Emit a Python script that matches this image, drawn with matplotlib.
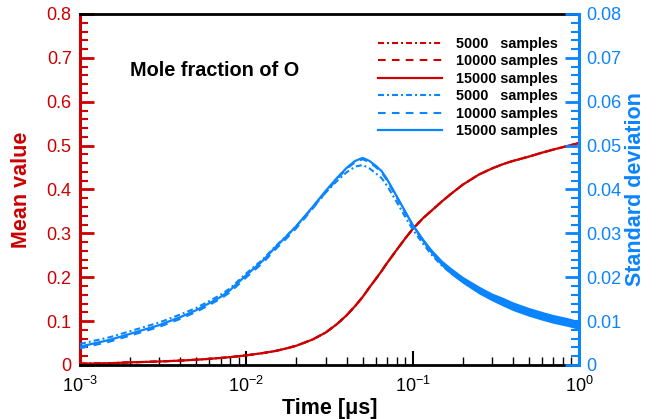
import matplotlib
matplotlib.use('Agg')
import matplotlib.pyplot as plt
import matplotlib.ticker as ticker
import numpy as np

plt.rcParams['font.family'] = ['Liberation Sans', 'DejaVu Sans']
plt.rcParams['mathtext.default'] = 'regular'
plt.rcParams['lines.scale_dashes'] = False

red = '#cc0000'
blue = '#0a84ff'

# time axis [us]
time_us = [0.001, 0.0015, 0.002, 0.003, 0.004, 0.005, 0.006, 0.007, 0.008, 0.01,
           0.0125, 0.015, 0.0175, 0.02, 0.025, 0.03, 0.035, 0.04, 0.045, 0.05,
           0.055, 0.06, 0.065, 0.07, 0.08, 0.09, 0.1, 0.115, 0.13, 0.15,
           0.17, 0.2, 0.25, 0.3, 0.35, 0.4, 0.5, 0.6, 0.7, 0.85, 1.0]

# mean mole fraction of O (left axis); the three sample sizes lie on top of each other
mean_15000 = [0.003, 0.004, 0.006, 0.008, 0.010, 0.012, 0.014, 0.016, 0.018, 0.022,
              0.027, 0.032, 0.038, 0.044, 0.058, 0.074, 0.093, 0.113, 0.134, 0.155,
              0.177, 0.196, 0.214, 0.232, 0.262, 0.288, 0.310, 0.334, 0.352, 0.373,
              0.390, 0.411, 0.434, 0.448, 0.458, 0.465, 0.475, 0.484, 0.491, 0.499, 0.506]
mean_10000 = list(mean_15000)
mean_5000 = list(mean_15000)

# standard deviation (right axis)
std_5000 = [0.0048, 0.0063, 0.0077, 0.0097, 0.0115, 0.0130, 0.0146, 0.0160, 0.0175, 0.0209,
            0.0240, 0.0271, 0.0295, 0.0317, 0.0358, 0.0393, 0.0419, 0.0439, 0.0452, 0.0456,
            0.0448, 0.0437, 0.0426, 0.0409, 0.0372, 0.0338, 0.0309, 0.0277, 0.0251, 0.0226,
            0.0209, 0.0190, 0.0168, 0.0152, 0.0142, 0.0132, 0.0119, 0.0110, 0.0104, 0.0097, 0.0090]
std_10000 = [0.0038, 0.0053, 0.0067, 0.0087, 0.0105, 0.0121, 0.0137, 0.0151, 0.0166, 0.0200,
             0.0232, 0.0264, 0.0289, 0.0312, 0.0356, 0.0394, 0.0423, 0.0447, 0.0462, 0.0469,
             0.0462, 0.0451, 0.0439, 0.0421, 0.0382, 0.0347, 0.0316, 0.0283, 0.0256, 0.0230,
             0.0212, 0.0192, 0.0170, 0.0154, 0.0143, 0.0133, 0.0120, 0.0111, 0.0104, 0.0097, 0.0091]
std_15000 = [0.0042, 0.0057, 0.0071, 0.0091, 0.0109, 0.0125, 0.0141, 0.0155, 0.0171, 0.0205,
             0.0237, 0.0269, 0.0294, 0.0317, 0.0360, 0.0397, 0.0426, 0.0449, 0.0465, 0.0472,
             0.0465, 0.0454, 0.0442, 0.0424, 0.0385, 0.0350, 0.0319, 0.0285, 0.0258, 0.0232,
             0.0214, 0.0194, 0.0171, 0.0155, 0.0144, 0.0134, 0.0121, 0.0112, 0.0105, 0.0098, 0.0091]
# half width of the statistical scatter seen on the 15000-sample curve
std_15000_scatter = [0, 0, 0, 0, 0, 0, 0, 0, 0, 0,
                     0, 0, 0, 0, 0, 0, 0, 0, 0, 0,
                     0, 0.0001, 0.0001, 0.0002, 0.0003, 0.0003, 0.0004, 0.0005, 0.0006, 0.0007,
                     0.0008, 0.0008, 0.0009, 0.0009, 0.0010, 0.0010, 0.0010, 0.0010, 0.0010, 0.0010, 0.0010]

sample_labels = ['5000   samples', '10000 samples', '15000 samples']

dashdot = (0, (4.3, 2.2, 1.4, 2.2))
dashed = (0, (5.5, 4.5))

fig = plt.figure(figsize=(6.58, 4.19), dpi=100)
ax = fig.add_axes([0.1216, 0.1289, 0.7584, 0.8377])
ax2 = ax.twinx()

l1, = ax.plot(time_us, mean_5000, color=red, linestyle=dashdot, linewidth=1.5)
l2, = ax.plot(time_us, mean_10000, color=red, linestyle=dashed, linewidth=1.5)
l3, = ax.plot(time_us, mean_15000, color=red, linestyle='-', linewidth=1.6)

lo = np.array(std_15000) - np.array(std_15000_scatter)
hi = np.array(std_15000) + np.array(std_15000_scatter)
ax2.fill_between(time_us, lo, hi, color=blue, linewidth=0)
l4, = ax2.plot(time_us, std_5000, color=blue, linestyle=dashdot, linewidth=1.5)
l5, = ax2.plot(time_us, std_10000, color=blue, linestyle=dashed, linewidth=1.5)
l6, = ax2.plot(time_us, std_15000, color=blue, linestyle='-', linewidth=1.6)

ax.set_xscale('log')
ax.set_xlim(1e-3, 1)
ax.set_ylim(0, 0.8)
ax2.set_ylim(0, 0.08)

ax.set_yticks(np.arange(0, 0.81, 0.1))
ax.yaxis.set_minor_locator(ticker.MultipleLocator(0.02))
ax.yaxis.set_major_formatter(ticker.FormatStrFormatter('%g'))
ax2.set_yticks(np.arange(0, 0.081, 0.01))
ax2.yaxis.set_minor_locator(ticker.MultipleLocator(0.002))
ax2.yaxis.set_major_formatter(ticker.FuncFormatter(lambda v, p: '0' if abs(v) < 1e-9 else '%.2f' % v))

# spines
for s in ['top', 'bottom']:
    ax.spines[s].set_linewidth(2)
    ax.spines[s].set_color('black')
    ax2.spines[s].set_visible(False)
ax.spines['left'].set_color(red)
ax.spines['left'].set_linewidth(2.2)
ax.spines['right'].set_visible(False)
ax2.spines['left'].set_visible(False)
ax2.spines['right'].set_color(blue)
ax2.spines['right'].set_linewidth(2.2)

ax.tick_params(axis='x', which='both', direction='in', top=False, labelsize=13, pad=8)
ax.tick_params(axis='x', which='major', length=10, width=1.5)
ax.tick_params(axis='x', which='minor', length=6, width=1)
ax.tick_params(axis='y', which='both', direction='in', colors=red, labelsize=13, right=False, pad=6)
ax.tick_params(axis='y', which='major', length=10, width=2)
ax.tick_params(axis='y', which='minor', length=6, width=1.5)
ax2.tick_params(axis='y', which='both', direction='in', colors=blue, labelsize=13, pad=5)
ax2.tick_params(axis='y', which='major', length=10, width=2)
ax2.tick_params(axis='y', which='minor', length=6, width=1.5)

ax.set_xlabel('Time [\u03bcs]', fontsize=15.5, fontweight='bold')
ax.xaxis.set_label_coords(0.5, -0.095)
ax.set_ylabel('Mean value', fontsize=15.5, fontweight='bold', color=red)
ax.yaxis.set_label_coords(-0.096, 0.5)
ax2.set_ylabel('Standard deviation', fontsize=15.5, fontweight='bold', color=blue)
ax2.yaxis.set_label_coords(1.092, 0.5)

ax.text(0.1, 0.84, 'Mole fraction of O', transform=ax.transAxes, fontsize=14.3,
        fontweight='bold', va='center')

handles = [l1, l2, l3, l4, l5, l6]
labels = sample_labels + sample_labels
ax2.legend(handles, labels, loc='upper left', bbox_to_anchor=(378 / 658, 1 - 37 / 419),
           bbox_transform=fig.transFigure, frameon=False, borderpad=0, borderaxespad=0,
           handlelength=4.4, handletextpad=1.0, labelspacing=0.24,
           prop={'weight': 'bold', 'size': 10.4})

fig.savefig('out.png', dpi=100)
